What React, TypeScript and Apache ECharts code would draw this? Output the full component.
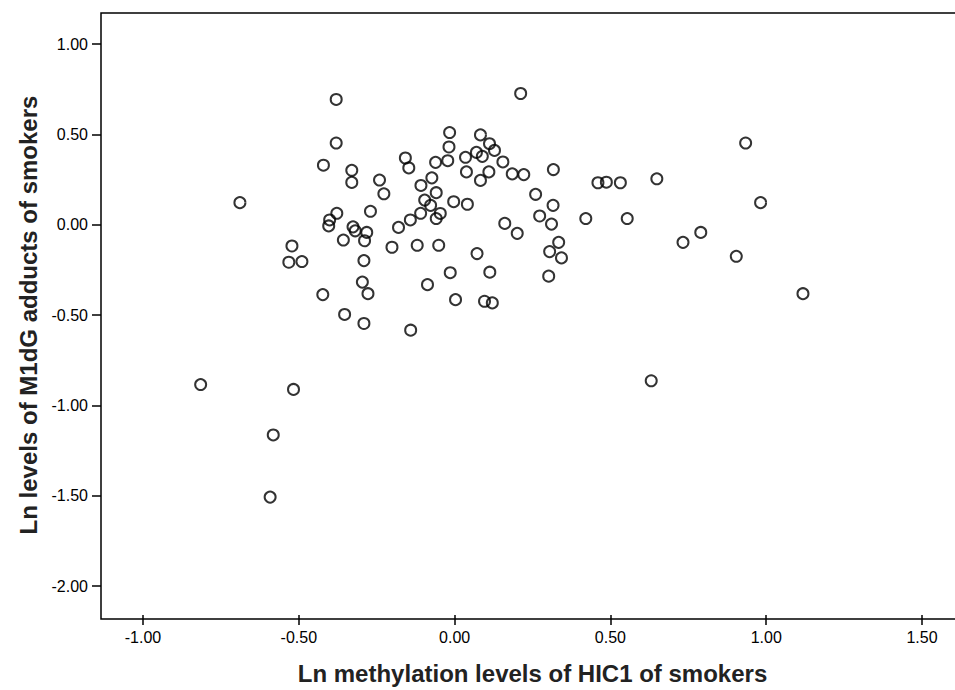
import React, { useEffect, useRef } from "react";
import * as echarts from "echarts";

const methylation: number[] = [
  -0.38, -0.38, -0.421, -0.33, -0.33, -0.241, -0.689, -0.378, -0.401, -0.404,
  -0.27, -0.326, -0.319, -0.282, -0.289, -0.357, -0.522, -0.291, -0.227, 0.212,
  -0.016, 0.083, 0.112, 0.128, -0.018, 0.07, 0.089, 0.035, -0.022, -0.061,
  -0.158, -0.147, 0.155, 0.185, 0.222, 0.317, 0.038, 0.11, 0.083, -0.073,
  -0.108, -0.059, -0.096, -0.077, -0.003, 0.041, -0.109, -0.046, -0.059, -0.142,
  -0.18, 0.26, 0.316, 0.273, 0.311, 0.161, 0.201, 0.334, 0.305, 0.343,
  -0.201, -0.12, -0.051, 0.072, -0.532, -0.49, -0.296, -0.278, -0.423, -0.353,
  -0.291, -0.815, -0.517, 0.302, -0.014, 0.113, -0.087, 0.003, 0.096, 0.121,
  -0.141, 0.934, 0.46, 0.487, 0.532, 0.649, 0.982, 0.421, 0.554, 0.79,
  0.733, 0.904, 1.118, -0.582, -0.592, 0.631,
];

const adducts: number[] = [
  0.693, 0.452, 0.329, 0.301, 0.234, 0.247, 0.122, 0.063, 0.026, -0.007,
  0.074, -0.012, -0.034, -0.043, -0.089, -0.085, -0.118, -0.199, 0.171, 0.726,
  0.51, 0.497, 0.448, 0.411, 0.43, 0.4, 0.378, 0.373, 0.354, 0.345,
  0.369, 0.314, 0.347, 0.281, 0.277, 0.305, 0.292, 0.292, 0.245, 0.259,
  0.217, 0.177, 0.136, 0.107, 0.127, 0.113, 0.063, 0.062, 0.034, 0.026,
  -0.015, 0.168, 0.107, 0.048, 0.003, 0.007, -0.048, -0.098, -0.149, -0.184,
  -0.125, -0.114, -0.114, -0.16, -0.208, -0.204, -0.318, -0.382, -0.387, -0.497,
  -0.547, -0.885, -0.912, -0.285, -0.266, -0.263, -0.332, -0.415, -0.424, -0.433,
  -0.584, 0.452, 0.232, 0.235, 0.232, 0.254, 0.122, 0.034, 0.034, -0.043,
  -0.098, -0.175, -0.382, -1.164, -1.508, -0.864,
];

const xTitle = "Ln methylation levels of HIC1 of smokers";
const yTitle = "Ln levels of M1dG adducts of smokers";

export default function App() {
  const ref = useRef<HTMLDivElement>(null);
  useEffect(() => {
    if (!ref.current) return;
    const chart = echarts.init(ref.current, null, { renderer: "svg" });
    const points = methylation.map((x, i) => [x, adducts[i]]);
    const font = "Liberation Sans, Arial, sans-serif";
    chart.setOption({
      animation: false,
      backgroundColor: "#fff",
      grid: { left: 143, right: 33, top: 44, bottom: 100 },
      xAxis: {
        type: "value",
        min: -1,
        max: 1.5,
        interval: 0.5,
        offset: 29,
        axisLine: { show: false, onZero: false },
        axisTick: { show: true, length: 10, lineStyle: { color: "#000", width: 1.5 } },
        axisLabel: {
          formatter: (v: number) => v.toFixed(2),
          fontSize: 16,
          color: "#000",
          margin: 14,
          fontFamily: font,
        },
        splitLine: { show: false },
        name: xTitle,
        nameLocation: "middle",
        nameGap: 46,
        nameTextStyle: { fontSize: 24, fontWeight: "bold", color: "#222", fontFamily: font },
      },
      yAxis: {
        type: "value",
        min: -2,
        max: 1,
        interval: 0.5,
        offset: 42,
        axisLine: { show: false, onZero: false },
        axisTick: { show: true, length: 9, lineStyle: { color: "#000", width: 1.5 } },
        axisLabel: {
          formatter: (v: number) => v.toFixed(2),
          fontSize: 16,
          color: "#000",
          margin: 13,
          fontFamily: font,
        },
        splitLine: { show: false },
        name: yTitle,
        nameLocation: "middle",
        nameGap: 58,
        nameTextStyle: { fontSize: 24, fontWeight: "bold", color: "#222", fontFamily: font },
      },
      graphic: [
        {
          type: "rect",
          shape: { x: 101, y: 13, width: 858, height: 606 },
          style: { fill: "none", stroke: "#000", lineWidth: 1.5 },
          silent: true,
        },
      ],
      series: [
        {
          type: "scatter",
          data: points,
          symbol: "circle",
          symbolSize: 11,
          itemStyle: { color: "transparent", borderColor: "#000", borderWidth: 2 },
        },
      ],
    });
    return () => chart.dispose();
  }, []);
  return (
    <div
      ref={ref}
      style={{ position: "absolute", left: 0, top: 0, width: 955, height: 690 }}
    />
  );
}
